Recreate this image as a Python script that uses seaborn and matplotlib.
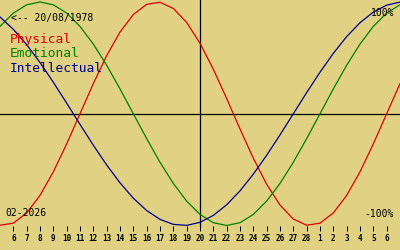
import matplotlib
matplotlib.use("Agg")
import matplotlib.pyplot as plt
import seaborn as sns
import pandas as pd

# day offsets relative to 20 Feb 2026 (centre line)
offsets = list(range(-15, 16))
tick_offsets = list(range(-14, 15))
tick_labels = ["6", "7", "8", "9", "10", "11", "12", "13", "14", "15", "16", "17",
               "18", "19", "20", "21", "22", "23", "24", "25", "26", "27", "28",
               "1", "2", "3", "4", "5", "6"]

physical = [-0.9977, -0.9791, -0.8879, -0.7308, -0.5196, -0.2698, 0.0, 0.2698,
            0.5196, 0.7308, 0.8879, 0.9791, 0.9977, 0.9423, 0.8170, 0.6311,
            0.3984, 0.1362, -0.1362, -0.3984, -0.6311, -0.8170, -0.9423, -0.9977,
            -0.9791, -0.8879, -0.7308, -0.5196, -0.2698, 0.0, 0.2698]
emotional = [0.7818, 0.9010, 0.9749, 1.0, 0.9749, 0.9010, 0.7818, 0.6235,
             0.4339, 0.2225, 0.0, -0.2225, -0.4339, -0.6235, -0.7818, -0.9010,
             -0.9749, -1.0, -0.9749, -0.9010, -0.7818, -0.6235, -0.4339, -0.2225,
             0.0, 0.2225, 0.4339, 0.6235, 0.7818, 0.9010, 0.9749]
intellectual = [0.8660, 0.7557, 0.6182, 0.4582, 0.2817, 0.0951, -0.0951, -0.2817,
                -0.4582, -0.6182, -0.7557, -0.8660, -0.9450, -0.9898, -0.9989, -0.9718,
                -0.9096, -0.8146, -0.6901, -0.5406, -0.3717, -0.1893, 0.0, 0.1893,
                0.3717, 0.5406, 0.6901, 0.8146, 0.9096, 0.9718, 0.9989]

series_names = ["Physical", "Emotional", "Intellectual"]
colors = {"Physical": "#e00000", "Emotional": "#008000", "Intellectual": "#00008c"}
bg = "#e0d282"

df = pd.concat([
    pd.DataFrame({"day": offsets, "value": physical, "series": "Physical"}),
    pd.DataFrame({"day": offsets, "value": emotional, "series": "Emotional"}),
    pd.DataFrame({"day": offsets, "value": intellectual, "series": "Intellectual"}),
])

W, H = 400, 250
fig = plt.figure(figsize=(W / 100, H / 100), dpi=100, facecolor=bg)
ax = fig.add_axes([0, 24 / H, 1, 226 / H])
ax.set_facecolor(bg)

ax.axhline(0, color="black", lw=0.9, zorder=1)
ax.axvline(0, color="black", lw=0.9, zorder=1)

sns.lineplot(data=df, x="day", y="value", hue="series", palette=colors,
             hue_order=series_names, legend=False, lw=0.9, ax=ax, zorder=2)
for line in ax.lines:
    line.set_clip_on(False)

ax.set_xlim(-15, 15)
ax.set_ylim(-1.0045, 1.0179)
for s in ax.spines.values():
    s.set_visible(False)
ax.set_yticks([])
ax.set_xticks(tick_offsets)
ax.set_xticklabels(tick_labels, fontfamily="DejaVu Sans Mono", fontweight="bold",
                   fontsize=5.5)
ax.tick_params(axis="x", length=3.6, width=0.72, pad=2.3, color="black")
ax.set_xlabel("")
ax.set_ylabel("")

def ptext(x, y, s, size, color="black", ha="left"):
    fig.text(x / W, 1 - y / H, s, fontsize=size, color=color, ha=ha,
             va="baseline", fontfamily="DejaVu Sans Mono")

ptext(11, 20.5, "<-- 20/08/1978", 7.0)
ptext(10, 42.5, "Physical", 9.3, colors["Physical"])
ptext(10, 57.3, "Emotional", 9.3, colors["Emotional"])
ptext(10, 71.7, "Intellectual", 9.3, colors["Intellectual"])
ptext(394, 15.7, "100%", 7.0, ha="right")
ptext(394, 216.7, "-100%", 7.0, ha="right")
ptext(5, 216, "02-2026", 7.0)

fig.savefig("out.png", dpi=100, facecolor=bg)
